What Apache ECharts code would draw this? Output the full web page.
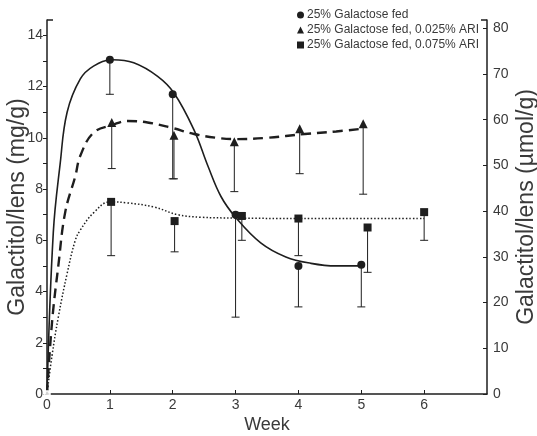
<!DOCTYPE html>
<html><head><meta charset="utf-8">
<script src="https://cdn.jsdelivr.net/npm/echarts@6/dist/echarts.min.js"></script>
<style>html,body{margin:0;padding:0;background:#fff}#c{width:537px;height:436px}</style>
</head><body><div id="c"></div>
<script>
// ---- data ----
var seriesNames = ['25% Galactose fed', '25% Galactose fed, 0.025% ARI', '25% Galactose fed, 0.075% ARI'];
var weekTicks = [0, 1, 2, 3, 4, 5, 6];
var leftTicks = [0,1,2,3,4,5,6,7,8,9,10,11,12,13,14];
var leftLabels = [0, 2, 4, 6, 8, 10, 12, 14];
var rightTicks = [0, 10, 20, 30, 40, 50, 60, 70, 80];

// measured points (mean, lower error bar end), mg/g
var galWeeks = [1, 2, 3, 4, 5];
var galMean  = [13.05, 11.7, 7.0, 5.0, 5.05];
var galLow   = [11.7, 8.4, 3.0, 3.4, 3.4];

var ari025Weeks = [1.03, 2.02, 2.98, 4.02, 5.03];
var ari025Mean  = [10.6, 10.1, 9.85, 10.35, 10.55];
var ari025Low   = [8.8, 8.4, 7.9, 8.6, 7.8];

var ari075Weeks = [1.02, 2.03, 3.1, 4.0, 5.1, 6.0];
var ari075Mean  = [7.5, 6.75, 6.95, 6.85, 6.5, 7.1];
var ari075Low   = [5.4, 5.55, 6.0, 5.4, 4.75, 6.0];

// fitted curves
var galCurveX = [0, 0.1, 0.21, 0.32, 0.53, 0.74, 1.04, 1.38, 1.76, 2.02, 2.34, 2.56, 2.77, 3.0, 3.4, 3.8, 4.2, 4.6, 5.0];
var galCurveY = [0, 6.3, 9.0, 11.0, 12.3, 12.8, 13.05, 12.93, 12.4, 11.75, 10.3, 8.9, 7.7, 6.9, 5.9, 5.35, 5.1, 5.0, 5.0];

var ari025CurveX = [0, 0.08, 0.18, 0.29, 0.45, 0.53, 0.74, 1.04, 1.28, 1.6, 1.97, 2.34, 2.7, 3.0, 3.5, 4.1, 4.6, 5.0];
var ari025CurveY = [0, 2.8, 5.0, 7.1, 8.5, 9.3, 10.2, 10.5, 10.66, 10.6, 10.4, 10.15, 10.0, 9.95, 10.0, 10.15, 10.25, 10.35];

var ari075CurveX = [0, 0.08, 0.18, 0.32, 0.45, 0.53, 0.74, 1.0, 1.28, 1.7, 2.08, 2.45, 3.0, 4.0, 5.0, 6.0];
var ari075CurveY = [0, 1.5, 3.0, 4.7, 6.0, 6.4, 7.07, 7.5, 7.46, 7.3, 7.0, 6.9, 6.87, 6.85, 6.85, 6.85];

var leftMax = 14.6, rightMax = 81.8, weekMax = 7;

function zip(xs, ys) { return xs.map(function (x, i) { return [x, ys[i]]; }); }
function zip3(xs, ys, ls) { return xs.map(function (x, i) { return [x, ys[i], ls[i]]; }); }

var INK = '#1e1e1e', TXT = '#3a3a3a', FONT = 'Liberation Sans, Arial, sans-serif';

function errRender(params, api) {
  var top = api.coord([api.value(0), api.value(1)]);
  var bot = api.coord([api.value(0), api.value(2)]);
  return {
    type: 'group',
    children: [
      { type: 'line', shape: { x1: top[0], y1: top[1], x2: bot[0], y2: bot[1] }, style: { stroke: INK, lineWidth: 1 } },
      { type: 'line', shape: { x1: bot[0] - 4, y1: bot[1], x2: bot[0] + 4, y2: bot[1] }, style: { stroke: INK, lineWidth: 1 } }
    ]
  };
}

function bracketRender(params, api) {
  var p = api.coord([api.value(0), api.value(1)]);
  var dir = api.value(2);
  return { type: 'line', shape: { x1: p[0], y1: p[1], x2: p[0] + dir * 6, y2: p[1] }, style: { stroke: INK, lineWidth: 1.5 } };
}

var chart = echarts.init(document.getElementById('c'), null, { renderer: 'canvas' });
chart.setOption({
  animation: false,
  textStyle: { fontFamily: FONT, color: TXT },
  legend: {
    orient: 'vertical', left: 292, top: 4, itemWidth: 7, itemHeight: 7, itemGap: 3,
    data: [
      { name: seriesNames[0], icon: 'circle' },
      { name: seriesNames[1], icon: 'triangle' },
      { name: seriesNames[2], icon: 'rect' }
    ],
    textStyle: { fontSize: 12, color: TXT, fontFamily: FONT, padding: [0, 0, 0, -2] }
  },
  grid: { left: 47, right: 50, top: 20, bottom: 42, containLabel: false, outerBoundsMode: 'none' },
  xAxis: {
    type: 'value', min: 0, max: weekMax, interval: 1,
    name: 'Week', nameLocation: 'middle', nameGap: 22, nameMoveOverlap: false,
    nameTextStyle: { fontSize: 18, color: TXT, fontFamily: FONT },
    axisLine: { lineStyle: { color: INK, width: 1.5 } },
    axisTick: { inside: true, length: 4, customValues: weekTicks, lineStyle: { color: INK } },
    axisLabel: { customValues: weekTicks, fontSize: 14, color: TXT, margin: 4 },
    splitLine: { show: false }
  },
  yAxis: [
    {
      type: 'value', min: 0, max: leftMax, interval: 1, position: 'left',
      name: 'Galactitol/lens (mg/g)', nameLocation: 'middle', nameGap: 18, nameRotate: 90, nameMoveOverlap: false,
      nameTextStyle: { fontSize: 23, color: TXT, fontFamily: FONT },
      axisLine: { show: true, lineStyle: { color: INK, width: 1.5 } },
      axisTick: { show: true, length: 4, customValues: leftTicks, lineStyle: { color: INK } },
      axisLabel: { customValues: leftLabels, fontSize: 14, color: TXT, margin: 4 },
      splitLine: { show: false }
    },
    {
      type: 'value', min: 0, max: rightMax, interval: 10, position: 'right',
      name: 'Galactitol/lens (µmol/g)', nameLocation: 'middle', nameGap: 28, nameRotate: 90, nameMoveOverlap: false,
      nameTextStyle: { fontSize: 23, color: TXT, fontFamily: FONT },
      axisLine: { show: true, lineStyle: { color: INK, width: 1.5 } },
      axisTick: { show: true, inside: true, length: 4, customValues: rightTicks, lineStyle: { color: INK } },
      axisLabel: { customValues: rightTicks, fontSize: 14, color: TXT, margin: 6 },
      splitLine: { show: false }
    }
  ],
  series: [
    { type: 'line', name: 'c1', data: zip(galCurveX, galCurveY), smooth: 0.4, showSymbol: false, silent: true,
      lineStyle: { color: INK, width: 1.6 }, z: 2 },
    { type: 'line', name: 'c2', data: zip(ari025CurveX, ari025CurveY), smooth: 0.4, showSymbol: false, silent: true,
      lineStyle: { color: INK, width: 2.4, type: [10, 6] }, z: 2 },
    { type: 'line', name: 'c3', data: zip(ari075CurveX, ari075CurveY), smooth: 0.4, showSymbol: false, silent: true,
      lineStyle: { color: INK, width: 1.5, type: [1.5, 2] }, z: 2 },
    { type: 'custom', name: 'e1', renderItem: errRender, data: zip3(galWeeks, galMean, galLow), z: 3, silent: true },
    { type: 'custom', name: 'e2', renderItem: errRender, data: zip3(ari025Weeks, ari025Mean, ari025Low), z: 3, silent: true },
    { type: 'custom', name: 'e3', renderItem: errRender, data: zip3(ari075Weeks, ari075Mean, ari075Low), z: 3, silent: true },
    { type: 'scatter', name: seriesNames[0], symbol: 'circle', symbolSize: 8, data: zip(galWeeks, galMean),
      itemStyle: { color: INK, opacity: 1 }, z: 4 },
    { type: 'scatter', name: seriesNames[1], symbol: 'triangle', symbolSize: 9, data: zip(ari025Weeks, ari025Mean),
      itemStyle: { color: INK, opacity: 1 }, z: 4 },
    { type: 'scatter', name: seriesNames[2], symbol: 'rect', symbolSize: 8, data: zip(ari075Weeks, ari075Mean),
      itemStyle: { color: INK, opacity: 1 }, z: 4 },
    { type: 'scatter', name: 'origin', symbol: 'emptyCircle', symbolSize: 6, data: [[0, 0]],
      itemStyle: { color: '#fff', borderColor: INK, borderWidth: 1 }, z: 5, silent: true },
    { type: 'custom', name: 'bracket', renderItem: bracketRender, data: [[0, leftMax, 1], [weekMax, leftMax, -1]], z: 5, silent: true }
  ]
});
</script></body></html>
